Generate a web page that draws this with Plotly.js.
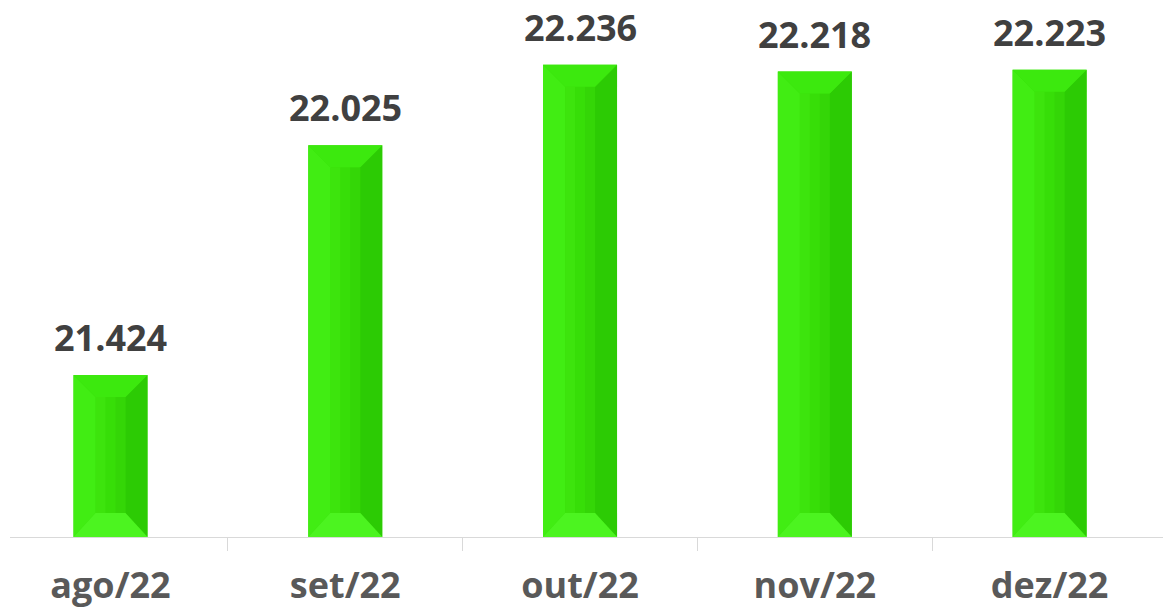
<!DOCTYPE html>
<html>
<head>
<meta charset="utf-8">
<script src="https://cdn.plot.ly/plotly-3.0.1.min.js"></script>
<style>html,body{margin:0;padding:0;background:#fff;}#chart{width:1163px;height:613px;}</style>
</head>
<body>
<div id="chart"></div>
<script>
const months = ['ago/22', 'set/22', 'out/22', 'nov/22', 'dez/22'];
const values = [21.424, 22.025, 22.236, 22.218, 22.223];
const valueLabels = ['21.424', '22.025', '22.236', '22.218', '22.223'];

const W = 1163, H = 613;
const margin = {l: 10, r: 0, t: 2, b: 76};
const yRange = [21.0, 22.4];
const pxPerUnit = (H - margin.t - margin.b) / (yRange[1] - yRange[0]);

const hw = 37, bev = 22, bevB = 24;
const bd = bev / pxPerUnit, bdB = bevB / pxPerUnit;
const base = yRange[0];

const shapes = [];
months.forEach((m, i) => {
  const v = values[i];
  const common = {type: 'path', xref: 'x', yref: 'y', xsizemode: 'pixel', xanchor: m, line: {width: 0}, layer: 'above'};
  // soft horizontal shading of face (lighter left, darker right)
  shapes.push(Object.assign({}, common, {path: `M ${-hw + bev},${base + bdB} L -5,${base + bdB} L -5,${v - bd} L ${-hw + bev},${v - bd} Z`, fillcolor: 'rgba(90,255,40,0.18)'}));
  shapes.push(Object.assign({}, common, {path: `M 5,${base + bdB} L ${hw - bev},${base + bdB} L ${hw - bev},${v - bd} L 5,${v - bd} Z`, fillcolor: 'rgba(20,120,0,0.07)'}));
  // left bevel
  shapes.push(Object.assign({}, common, {path: `M ${-hw},${base} L ${-hw},${v} L ${-hw + bev},${v - bd} L ${-hw + bev},${base + bdB} Z`, fillcolor: '#41ed13'}));
  // right bevel
  shapes.push(Object.assign({}, common, {path: `M ${hw},${base} L ${hw},${v} L ${hw - bev},${v - bd} L ${hw - bev},${base + bdB} Z`, fillcolor: '#2ccb04'}));
  // top bevel
  shapes.push(Object.assign({}, common, {path: `M ${-hw},${v} L ${hw},${v} L ${hw - bev},${v - bd} L ${-hw + bev},${v - bd} Z`, fillcolor: '#3ce90e'}));
  // bottom bevel
  shapes.push(Object.assign({}, common, {path: `M ${-hw},${base} L ${hw},${base} L ${hw - bev},${base + bdB} L ${-hw + bev},${base + bdB} Z`, fillcolor: '#4cf420'}));
});

const annotations = months.map((m, i) => ({
  x: m, y: values[i], xref: 'x', yref: 'y',
  text: valueLabels[i], showarrow: false,
  yanchor: 'bottom', yshift: 11,
  font: {family: 'Open Sans, sans-serif', size: 36, color: '#404040', weight: 'bold'}
}));

const trace = {
  type: 'bar',
  x: months,
  y: values,
  marker: {color: '#37de08', line: {width: 0}},
  hoverinfo: 'none'
};

const layout = {
  width: W, height: H,
  margin: margin,
  paper_bgcolor: '#ffffff',
  plot_bgcolor: '#ffffff',
  showlegend: false,
  bargap: 0.685,
  xaxis: {
    type: 'category',
    range: [-0.428, 4.483],
    showline: true, linecolor: '#d9d9d9', linewidth: 1,
    ticks: 'outside', tickson: 'boundaries', ticklen: 13, tickcolor: '#d9d9d9', tickwidth: 1,
    showgrid: false, zeroline: false,
    tickfont: {family: 'Open Sans, sans-serif', size: 36, color: '#595959', weight: 'bold'},
    ticklabelstandoff: 17
  },
  yaxis: {
    range: yRange,
    visible: false,
    showgrid: false, zeroline: false
  },
  annotations: annotations,
  shapes: shapes
};

Plotly.newPlot('chart', [trace], layout, {staticPlot: true, displayModeBar: false});
</script>
</body>
</html>
